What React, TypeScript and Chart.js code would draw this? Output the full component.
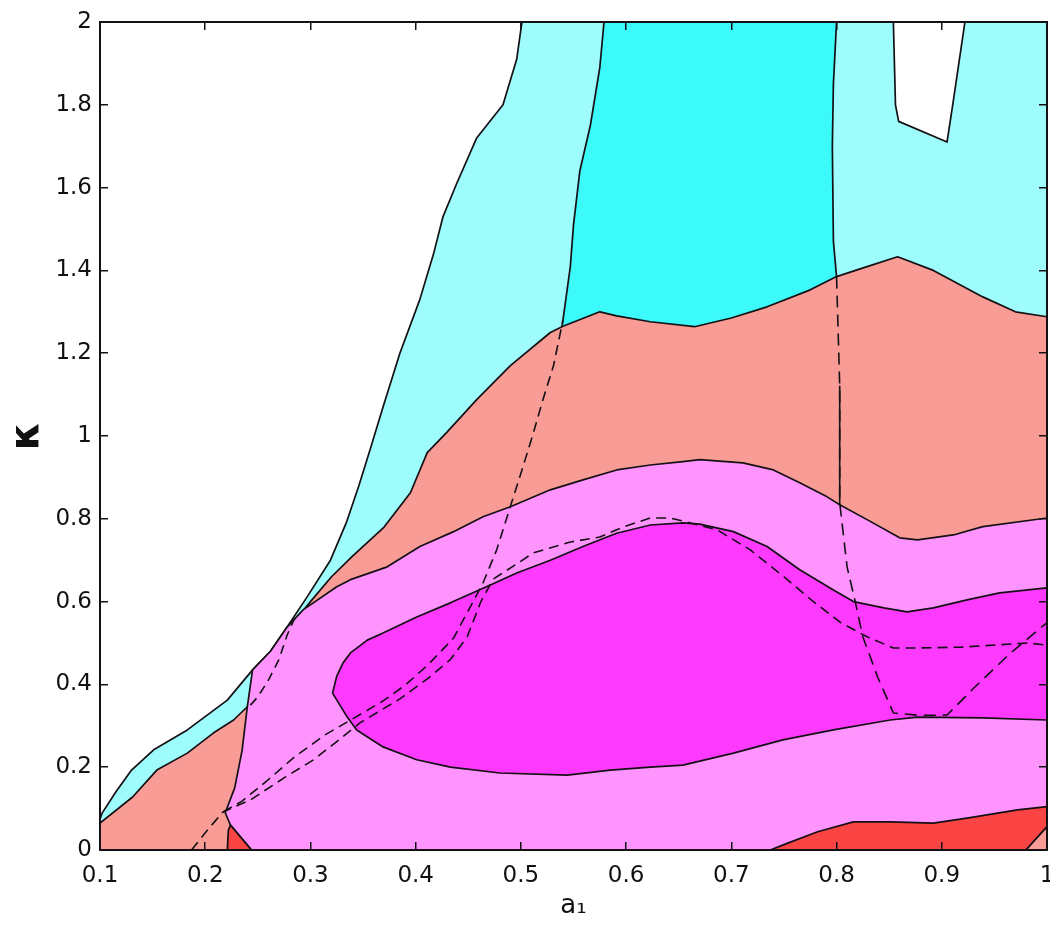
import React, { useEffect, useRef } from 'react';
import { Chart, registerables } from 'chart.js';

Chart.register(...registerables);

type P = [number, number];

// Axis ticks
const xTicks = [0.1, 0.2, 0.3, 0.4, 0.5, 0.6, 0.7, 0.8, 0.9, 1];
const yTicks = [0, 0.2, 0.4, 0.6, 0.8, 1, 1.2, 1.4, 1.6, 1.8, 2];
const xLabel = 'a₁';
const yLabel = 'κ';

// Outer (light cyan) contour, bottom-left to top
const cyanOuterContour: P[] = [
  [0.1, 0.075], [0.102, 0.089], [0.115, 0.14], [0.13, 0.193], [0.151, 0.242], [0.183, 0.29],
  [0.221, 0.362], [0.245, 0.435], [0.262, 0.48], [0.278, 0.539], [0.297, 0.612], [0.319, 0.70],
  [0.334, 0.79], [0.346, 0.88], [0.357, 0.97], [0.369, 1.07], [0.385, 1.2], [0.404, 1.33], [0.417, 1.44],
  [0.426, 1.53], [0.439, 1.61], [0.458, 1.72], [0.483, 1.8], [0.496, 1.91], [0.501, 2.0],
];

// Bright cyan band (between the two near-vertical lines)
const brightCyanLeft: P[] = [
  [0.579, 2.0], [0.575, 1.89], [0.566, 1.75], [0.556, 1.64], [0.55, 1.51], [0.547, 1.41],
  [0.54, 1.28], [0.535, 1.2],
];
const brightCyanRight: P[] = [
  [0.8, 1.2], [0.8, 1.385], [0.797, 1.47], [0.796, 1.7], [0.797, 1.85], [0.8, 2.0],
];

// White hole at top right
const whiteHole: P[] = [
  [0.854, 2.0], [0.856, 1.8], [0.859, 1.76], [0.905, 1.71], [0.911, 1.81], [0.922, 2.0],
];

// Salmon contour (top boundary of salmon region)
const salmonContour: P[] = [
  [0.1, 0.065], [0.131, 0.128], [0.154, 0.193], [0.183, 0.234], [0.208, 0.283], [0.227, 0.314],
  [0.24, 0.346], [0.26, 0.44], [0.278, 0.53], [0.3, 0.6], [0.32, 0.66], [0.34, 0.71],
  [0.37, 0.78], [0.395, 0.863], [0.411, 0.96], [0.43, 1.01], [0.458, 1.088], [0.49, 1.17],
  [0.528, 1.25], [0.54, 1.265], [0.575, 1.3], [0.591, 1.29], [0.623, 1.276], [0.665, 1.264],
  [0.7, 1.285], [0.734, 1.312], [0.775, 1.353], [0.8, 1.385], [0.829, 1.409], [0.858, 1.433],
  [0.892, 1.4], [0.939, 1.336], [0.97, 1.3], [1.0, 1.288],
];

// Light pink region outline (left boundary then top contour)
const pinkContour: P[] = [
  [0.244, 0.0], [0.224, 0.06], [0.219, 0.09], [0.228, 0.15], [0.235, 0.24], [0.24, 0.346],
  [0.245, 0.435], [0.262, 0.48], [0.278, 0.539], [0.293, 0.58], [0.325, 0.636], [0.338, 0.653],
  [0.373, 0.684], [0.404, 0.733], [0.436, 0.769], [0.464, 0.805], [0.49, 0.829], [0.528, 0.87],
  [0.559, 0.894], [0.591, 0.918], [0.623, 0.93], [0.654, 0.938], [0.67, 0.943], [0.711, 0.935],
  [0.74, 0.918], [0.765, 0.887], [0.791, 0.853], [0.803, 0.834], [0.829, 0.798], [0.86, 0.754],
  [0.877, 0.749], [0.911, 0.761], [0.939, 0.781], [1.0, 0.802],
];

// Magenta closed region
const magentaContour: P[] = [
  [0.321, 0.379], [0.325, 0.42], [0.331, 0.452], [0.338, 0.476], [0.354, 0.507], [0.369, 0.524],
  [0.401, 0.563], [0.433, 0.597], [0.471, 0.64], [0.496, 0.669], [0.528, 0.7], [0.559, 0.733],
  [0.591, 0.765], [0.623, 0.785], [0.654, 0.79], [0.67, 0.787], [0.702, 0.769], [0.734, 0.733],
  [0.765, 0.677], [0.797, 0.628], [0.816, 0.6], [0.845, 0.585], [0.867, 0.575], [0.892, 0.585],
  [0.924, 0.604], [0.955, 0.621], [1.0, 0.633], [1.0, 0.314], [0.939, 0.319], [0.877, 0.321],
  [0.851, 0.314], [0.797, 0.29], [0.749, 0.266], [0.702, 0.234], [0.654, 0.205], [0.623, 0.2],
  [0.585, 0.193], [0.544, 0.181], [0.48, 0.186], [0.433, 0.2], [0.401, 0.218], [0.369, 0.249],
  [0.344, 0.29], [0.335, 0.321],
];

// Red region, bottom right
const redRight: P[] = [
  [0.737, 0.0], [0.753, 0.016], [0.782, 0.044], [0.816, 0.068], [0.851, 0.068], [0.892, 0.065],
  [0.924, 0.077], [0.972, 0.097], [1.0, 0.105], [1.0, 0.056], [0.98, 0.0],
];
const salmonCorner: P[] = [[0.98, 0.0], [1.0, 0.056], [1.0, 0.0]];

// Red region, bottom left
const redLeft: P[] = [[0.221, 0.0], [0.222, 0.048], [0.224, 0.06], [0.244, 0.0]];

// Dashed contours
const dashedArc: P[] = [
  [0.187, 0.0], [0.202, 0.048], [0.217, 0.092], [0.243, 0.121], [0.276, 0.176], [0.303, 0.218],
  [0.325, 0.262], [0.347, 0.307], [0.385, 0.365], [0.412, 0.415], [0.433, 0.46], [0.449, 0.515],
  [0.462, 0.6], [0.474, 0.655], [0.499, 0.696], [0.512, 0.718], [0.547, 0.744], [0.575, 0.756],
  [0.597, 0.78], [0.623, 0.802], [0.642, 0.802], [0.661, 0.79], [0.686, 0.774], [0.718, 0.725],
  [0.75, 0.66], [0.776, 0.604], [0.804, 0.549], [0.829, 0.515], [0.854, 0.488], [0.877, 0.488],
  [0.918, 0.49], [0.981, 0.5], [1.0, 0.495],
];
const dashedRise: P[] = [
  [0.217, 0.092], [0.235, 0.118], [0.26, 0.17], [0.285, 0.225], [0.315, 0.28], [0.341, 0.318],
  [0.369, 0.36], [0.39, 0.398], [0.412, 0.448], [0.436, 0.512], [0.454, 0.597], [0.464, 0.645],
  [0.477, 0.725], [0.49, 0.83], [0.501, 0.918], [0.511, 1.0], [0.521, 1.088], [0.531, 1.17],
  [0.54, 1.28],
];
const dashedRight: P[] = [
  [0.8, 1.385], [0.803, 1.12], [0.803, 0.839], [0.81, 0.684], [0.818, 0.597], [0.825, 0.515],
  [0.839, 0.418], [0.854, 0.331], [0.88, 0.325], [0.905, 0.326], [0.93, 0.39], [0.965, 0.475],
  [1.0, 0.549],
];
const solidRightPiece: P[] = [[0.803, 1.12], [0.803, 0.834]];
const dashedSmall: P[] = [
  [0.243, 0.35], [0.25, 0.37], [0.26, 0.41], [0.27, 0.46], [0.278, 0.52], [0.285, 0.56],
];

const LINE = '#141014';

function closed(pts: P[]): P[] {
  return [...pts, pts[0]];
}

export default function App() {
  const ref = useRef<HTMLCanvasElement | null>(null);

  useEffect(() => {
    if (!ref.current) return;
    const layers: any[] = [];
    const poly = (pts: P[], color: string) => {
      layers.push({
        data: closed(pts).map(([x, y]) => ({ x, y })),
        backgroundColor: color,
        borderColor: LINE,
        borderWidth: 1.7,
        fill: 'shape',
        pointRadius: 0,
        tension: 0,
      });
    };
    const line = (pts: P[], dash: number[]) => {
      layers.push({
        data: pts.map(([x, y]) => ({ x, y })),
        borderColor: LINE,
        borderWidth: 1.6,
        borderDash: dash,
        fill: false,
        pointRadius: 0,
        tension: 0,
      });
    };

    poly([...cyanOuterContour, [1, 2], [1, 0], [0.1, 0]], '#9ffcfc');
    poly([...brightCyanLeft, ...brightCyanRight], '#3cfafa');
    poly(whiteHole, '#ffffff');
    poly([...salmonContour, [1, 0], [0.1, 0]], '#fa9c96');
    poly([...pinkContour, [1, 0]], '#ff94ff');
    poly(magentaContour, '#ff3aff');
    poly(redRight, '#fb4444');
    poly(salmonCorner, '#fa9c96');
    poly(redLeft, '#fb4444');
    line(dashedArc, [10, 6]);
    line(dashedRise, [10, 6]);
    line(dashedRight, [12, 7]);
    line(solidRightPiece, []);
    line(dashedSmall, [9, 6]);

    const n = layers.length;
    layers.forEach((d, i) => (d.order = n - i));

    const tickFont = { family: 'DejaVu Sans', size: 23 };
    const setX = (s: any) => { s.ticks = xTicks.map((v) => ({ value: v })); };
    const setY = (s: any) => { s.ticks = yTicks.map((v) => ({ value: v })); };
    const fmt = (v: any) => String(+Number(v).toFixed(2));
    const gridOpts = {
      display: true,
      drawOnChartArea: false,
      drawTicks: true,
      tickLength: -8,
      color: LINE,
      lineWidth: 1.5,
      z: 1,
    };
    const borderOpts = { display: true, color: LINE, width: 2, z: 1 };

    const chart = new Chart(ref.current, {
      type: 'line',
      data: { datasets: layers },
      options: {
        animation: false,
        responsive: false,
        devicePixelRatio: 1,
        layout: { padding: { top: 22, right: 3, left: 0, bottom: 0 } },
        plugins: { legend: { display: false }, tooltip: { enabled: false } },
        elements: { line: { borderCapStyle: 'butt', borderJoinStyle: 'round' } },
        scales: {
          x: {
            type: 'linear',
            position: 'bottom',
            min: 0.1,
            max: 1,
            afterBuildTicks: setX,
            afterFit: (s: any) => { s.height = 76; s.paddingLeft = 0; s.paddingRight = 0; },
            ticks: { font: tickFont, color: '#111', padding: 20, maxRotation: 0, autoSkip: false, callback: fmt, z: 1 },
            grid: gridOpts,
            border: borderOpts,
            title: { display: true, text: xLabel, font: { family: 'DejaVu Sans', size: 26 }, color: '#111', padding: { top: 0, bottom: 4 } },
          },
          x2: {
            type: 'linear',
            position: 'top',
            min: 0.1,
            max: 1,
            afterBuildTicks: setX,
            afterFit: (s: any) => { s.height = 0; s.paddingLeft = 0; s.paddingRight = 0; },
            ticks: { display: false },
            grid: gridOpts,
            border: borderOpts,
          },
          y: {
            type: 'linear',
            position: 'left',
            min: 0,
            max: 2,
            afterBuildTicks: setY,
            afterFit: (s: any) => { s.width = 100; s.paddingTop = 0; s.paddingBottom = 0; },
            ticks: { font: tickFont, color: '#111', padding: 16, autoSkip: false, callback: fmt, z: 1 },
            grid: gridOpts,
            border: borderOpts,
            title: { display: true, text: yLabel, font: { family: 'DejaVu Sans', size: 40, weight: 'bold' }, color: '#111', padding: { top: 4, bottom: 0 } },
          },
          y2: {
            type: 'linear',
            position: 'right',
            min: 0,
            max: 2,
            afterBuildTicks: setY,
            afterFit: (s: any) => { s.width = 0; s.paddingTop = 0; s.paddingBottom = 0; },
            ticks: { display: false },
            grid: gridOpts,
            border: borderOpts,
          },
        },
      } as any,
    });
    return () => chart.destroy();
  }, []);

  return (
    <div style={{ position: 'absolute', left: 0, top: 0, width: 1050, height: 926, background: '#fff' }}>
      <canvas ref={ref} width={1050} height={926} style={{ display: 'block', width: 1050, height: 926 }} />
    </div>
  );
}
